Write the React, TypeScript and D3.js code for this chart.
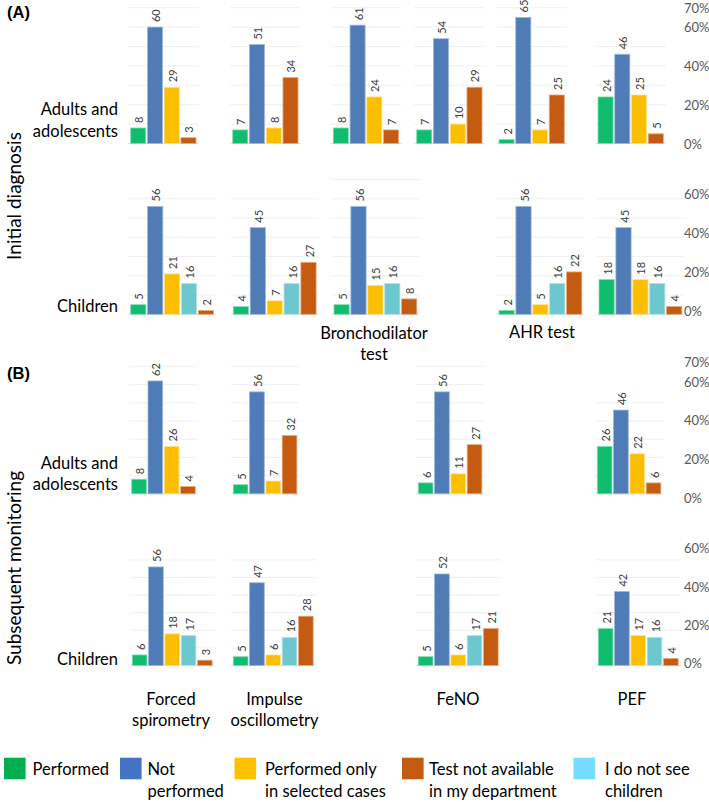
import React from "react";
import * as d3 from "d3";

// ---------- data ----------
const testNames = ["Forced spirometry", "Impulse oscillometry", "Bronchodilator test", "FeNO", "AHR test", "PEF"];
const adultCategories = ["Performed", "Not performed", "Performed only in selected cases", "Test not available in my department"];
const childCategories = ["Performed", "Not performed", "Performed only in selected cases", "I do not see children", "Test not available in my department"];

const initialAdults: (number[] | null)[] = [
  [8, 60, 29, 3],
  [7, 51, 8, 34],
  [8, 61, 24, 7],
  [7, 54, 10, 29],
  [2, 65, 7, 25],
  [24, 46, 25, 5],
];
const initialChildren: (number[] | null)[] = [
  [5, 56, 21, 16, 2],
  [4, 45, 7, 16, 27],
  [5, 56, 15, 16, 8],
  null,
  [2, 56, 5, 16, 22],
  [18, 45, 18, 16, 4],
];
const monitoringAdults: (number[] | null)[] = [
  [8, 62, 26, 4],
  [5, 56, 7, 32],
  null,
  [6, 56, 11, 27],
  null,
  [26, 46, 22, 6],
];
const monitoringChildren: (number[] | null)[] = [
  [6, 56, 18, 17, 3],
  [5, 47, 6, 16, 28],
  null,
  [5, 52, 6, 17, 21],
  null,
  [21, 42, 17, 16, 4],
];

const legendLines: string[][] = [
  ["Performed"],
  ["Not", "performed"],
  ["Performed only", "in selected cases"],
  ["Test not available", "in my department"],
  ["I do not see", "children"],
];

// ---------- styles / layout ----------
const barColor: Record<string, string> = {
  "Performed": "#10BD6E",
  "Not performed": "#4F7BB6",
  "Performed only in selected cases": "#FBBE00",
  "I do not see children": "#6CC8CE",
  "Test not available in my department": "#C55A11",
};
const barStroke: Record<string, string> = {
  "Performed": "#7fdcb0",
  "Not performed": "#9db7da",
  "Performed only in selected cases": "#fde08a",
  "I do not see children": "#b6e4e7",
  "Test not available in my department": "#e8a97f",
};
const legendColors = ["#00B050", "#4472C4", "#FFC000", "#C55A11", "#75DBFF"];
const legendX = [4, 120, 234.5, 402, 573.5];
const legendTextX = [32.5, 147.5, 265, 429, 605];

const FONT = "Lato, 'Open Sans', sans-serif";

interface RowCfg {
  data: (number[] | null)[];
  cats: string[];
  baseline: number;
  ppp: number;
  lefts: number[];
  step: number;
  gridMax: number[];
  axisZero: number;
  axisPpp: number;
  axisTicks: number[];
  label: string[];
  labelBaselines: number[];
}

const rows: RowCfg[] = [
  {
    data: initialAdults, cats: adultCategories, baseline: 143.5, ppp: 1.94,
    lefts: [130.7, 232.7, 333.3, 416.7, 499, 598], step: 16.75,
    gridMax: [70, 70, 70, 70, 70, 50],
    axisZero: 144, axisPpp: 1.95, axisTicks: [0, 20, 40, 60, 70],
    label: ["Adults and", "adolescents"], labelBaselines: [115, 136.5],
  },
  {
    data: initialChildren, cats: childCategories, baseline: 314.3, ppp: 1.925,
    lefts: [130.7, 233.3, 334, 0, 499, 599], step: 16.9,
    gridMax: [60, 60, 70, 0, 60, 60],
    axisZero: 310.7, axisPpp: 1.94, axisTicks: [0, 20, 40, 60],
    label: ["Children"], labelBaselines: [312],
  },
  {
    data: monitoringAdults, cats: adultCategories, baseline: 493.8, ppp: 1.82,
    lefts: [131.7, 233.3, 0, 418.3, 0, 597.3], step: 16.3,
    gridMax: [70, 70, 0, 70, 0, 50],
    axisZero: 497.7, axisPpp: 1.933, axisTicks: [0, 20, 40, 60, 70],
    label: ["Adults and", "adolescents"], labelBaselines: [468.5, 490],
  },
  {
    data: monitoringChildren, cats: childCategories, baseline: 665.5, ppp: 1.76,
    lefts: [132.3, 233.3, 0, 418.3, 0, 598.3], step: 16.3,
    gridMax: [60, 60, 0, 60, 0, 60],
    axisZero: 663.3, axisPpp: 1.917, axisTicks: [0, 20, 40, 60],
    label: ["Children"], labelBaselines: [665],
  },
];

// category labels: [column index, center x, baselines]
const testLabelPos: { col: number; cx: number; y: number }[] = [
  { col: 2, cx: 374, y: 339 },
  { col: 4, cx: 542, y: 338 },
  { col: 0, cx: 171, y: 705 },
  { col: 1, cx: 274.5, y: 705 },
  { col: 3, cx: 458, y: 705 },
  { col: 5, cx: 632, y: 705 },
];
const testLabelLines: Record<string, string[]> = {
  "Forced spirometry": ["Forced", "spirometry"],
  "Impulse oscillometry": ["Impulse", "oscillometry"],
  "Bronchodilator test": ["Bronchodilator", "test"],
  "FeNO": ["FeNO"],
  "AHR test": ["AHR test"],
  "PEF": ["PEF"],
};

function Panel({ row, col }: { row: RowCfg; col: number }) {
  const vals = row.data[col];
  if (!vals) return null;
  const n = row.cats.length;
  const x0 = row.lefts[col];
  const pad = 0.1;
  const x = d3
    .scaleBand<string>()
    .domain(row.cats)
    .range([x0 - (row.step * pad) / 2, x0 - (row.step * pad) / 2 + n * row.step])
    .paddingInner(pad)
    .paddingOuter(pad / 2);
  const y = d3.scaleLinear().domain([0, 70]).range([row.baseline, row.baseline - 70 * row.ppp]);
  const gridTicks = d3.range(0, row.gridMax[col] + 1, 10);
  const gx0 = x0 - 2.5;
  const gx1 = x0 + n * row.step + 1;
  return (
    <g>
      {gridTicks.map((t) => (
        <line key={t} x1={gx0} x2={gx1} y1={y(t)} y2={y(t)} stroke={t === 0 ? "#e4e4e4" : "#f0f0f0"} strokeWidth={1} />
      ))}
      {vals.map((v, i) => {
        const c = row.cats[i];
        const bx = x(c)!;
        const bw = x.bandwidth();
        return (
          <g key={i}>
            <rect x={bx} y={y(v)} width={bw} height={y(0) - y(v)} fill={barColor[c]} stroke={barStroke[c]} strokeWidth={0.8} />
            <text
              transform={`translate(${bx + bw / 2 + 0.5},${y(v) - 5}) rotate(-90)`}
              textAnchor="start"
              dominantBaseline="central"
              fontSize={11}
              fill="#404040"
              fontFamily={FONT}
            >
              {v}
            </text>
          </g>
        );
      })}
    </g>
  );
}

export default function App() {
  return (
    <svg
      width={709}
      height={802}
      viewBox="0 0 709 802"
      style={{ position: "absolute", left: 0, top: 0, background: "#ffffff" }}
      fontFamily={FONT}
    >
      <rect x={0} y={0} width={709} height={802} fill="#ffffff" />
      <text x={7} y={18.3} fontSize={16.5} fontWeight="bold" fontFamily="'Liberation Sans', Arial, sans-serif" fill="#000">(A)</text>
      <text x={7} y={378.5} fontSize={16.5} fontWeight="bold" fontFamily="'Liberation Sans', Arial, sans-serif" fill="#000">(B)</text>

      <text transform="translate(21,196) rotate(-90)" textAnchor="middle" fontSize={19} fill="#000">Initial diagnosis</text>
      <text transform="translate(21,568) rotate(-90)" textAnchor="middle" fontSize={19} fill="#000">Subsequent monitoring</text>

      {rows.map((row, ri) => {
        const ay = d3.scaleLinear().domain([0, 70]).range([row.axisZero, row.axisZero - 70 * row.axisPpp]);
        return (
          <g key={ri}>
            {row.label.map((l, li) => (
              <text key={li} x={118} y={row.labelBaselines[li]} textAnchor="end" fontSize={16.5} fill="#000">{l}</text>
            ))}
            {testNames.map((_, ci) => (
              <Panel key={ci} row={row} col={ci} />
            ))}
            {row.axisTicks.map((t) => (
              <text key={t} x={684} y={ay(t)} dominantBaseline="central" fontSize={13} fill="#595959">{`${t}%`}</text>
            ))}
          </g>
        );
      })}

      {testLabelPos.map((p) => {
        const lines = testLabelLines[testNames[p.col]];
        return lines.map((l, li) => (
          <text key={`${p.col}-${li}`} x={p.cx} y={p.y + li * 20.5} textAnchor="middle" fontSize={16.5} fill="#000">{l}</text>
        ));
      })}

      {legendLines.map((lines, i) => (
        <g key={i}>
          <rect x={legendX[i]} y={757.7} width={21.6} height={21.6} fill={legendColors[i]} />
          {lines.map((l, li) => (
            <text key={li} x={legendTextX[i]} y={775 + li * 21.7} fontSize={16.5} fill="#000">{l}</text>
          ))}
        </g>
      ))}
    </svg>
  );
}
